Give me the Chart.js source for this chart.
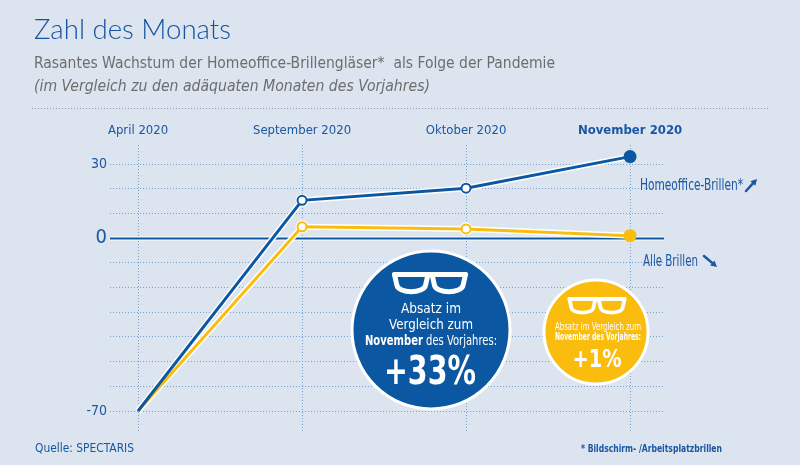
<!DOCTYPE html>
<html lang="de">
<head>
  <meta charset="UTF-8" />
  <title>Zahl des Monats</title>
  <script src="https://cdn.jsdelivr.net/npm/chart.js"></script>
  <style>
    html, body { margin: 0; padding: 0; background: #dce4ef; }
    #wrap { width: 800px; height: 465px; position: relative; }
  </style>
</head>
<body>
  <div id="wrap"><canvas id="chart" width="800" height="465"></canvas></div>

  <script>
    // Data
    const months = ['April 2020', 'September 2020', 'Oktober 2020', 'November 2020'];
    const homeoffice = [-70, 15.3, 20.2, 33];
    const alleBrillen = [-70, 4.6, 3.7, 1];
    const yTicks = [-70, -60, -50, -40, -30, -20, -10, 0, 10, 20, 30];
    const yLabelled = [30, 0, -70];
    const badgeBlue = '+33%';
    const badgeYellow = '+1%';

    const BLUE = '#0c57a2';
    const TEXT = '#1a57a3';
    const YELLOW = '#fbbd0d';
    const GRID = '#76a0d2';
    const COND = "'Liberation Sans Narrow', 'DejaVu Sans Condensed', 'Liberation Sans', sans-serif";

    // draws text squeezed to a given width, mimicking the condensed face of the original
    function txt(ctx, s, x, y, font, color, align, w) {
      ctx.font = font;
      ctx.fillStyle = color;
      ctx.textAlign = align || 'left';
      ctx.textBaseline = 'alphabetic';
      if (w) ctx.fillText(s, x, y, w); else ctx.fillText(s, x, y);
    }

    function glasses(ctx, cx, top, w, h, lw) {
      const x0 = cx - w / 2;
      const lensW = w * 0.44;
      const t = top + lw / 2;
      const ih = h - lw;
      ctx.strokeStyle = '#fff';
      ctx.lineWidth = lw;
      ctx.lineJoin = 'round';
      ctx.lineCap = 'round';
      ctx.beginPath();
      ctx.moveTo(x0 + lw / 2, t);
      ctx.lineTo(x0 + w - lw / 2, t);
      ctx.stroke();
      [x0 + lw / 2, x0 + w - lw / 2 - lensW].forEach(lx => {
        ctx.beginPath();
        ctx.moveTo(lx, t);
        ctx.lineTo(lx + lensW, t);
        ctx.lineTo(lx + lensW * 0.93, t + ih * 0.55);
        ctx.bezierCurveTo(lx + lensW * 0.88, t + ih * 1.02, lx + lensW * 0.12, t + ih * 1.02, lx + lensW * 0.07, t + ih * 0.55);
        ctx.closePath();
        ctx.stroke();
      });
    }

    function arrow(ctx, x1, y1, x2, y2) {
      const a = Math.atan2(y2 - y1, x2 - x1);
      ctx.strokeStyle = TEXT;
      ctx.fillStyle = TEXT;
      ctx.lineWidth = 2.5;
      ctx.beginPath();
      ctx.moveTo(x1, y1);
      ctx.lineTo(x2 - 4 * Math.cos(a), y2 - 4 * Math.sin(a));
      ctx.stroke();
      ctx.beginPath();
      ctx.moveTo(x2, y2);
      ctx.lineTo(x2 - 7 * Math.cos(a - 0.5), y2 - 7 * Math.sin(a - 0.5));
      ctx.lineTo(x2 - 7 * Math.cos(a + 0.5), y2 - 7 * Math.sin(a + 0.5));
      ctx.closePath();
      ctx.fill();
    }

    const decor = {
      id: 'decor',
      beforeDraw(chart) {
        const ctx = chart.ctx;
        ctx.save();
        ctx.fillStyle = '#dce4ef';
        ctx.fillRect(0, 0, chart.width, chart.height);

        txt(ctx, 'Zahl des Monats', 34, 39, "300 28px 'Lato', 'Open Sans', sans-serif", '#1652a0', 'left', 197);
        txt(ctx, 'Rasantes Wachstum der Homeoffice-Brillengläser*  als Folge der Pandemie', 34, 68, '16px ' + COND, '#6d6d6d', 'left', 521);
        txt(ctx, '(im Vergleich zu den adäquaten Monaten des Vorjahres)', 34, 91, 'italic 16px ' + COND, '#6d6d6d', 'left', 396);

        ctx.strokeStyle = '#8e9cb2';
        ctx.lineWidth = 1;
        ctx.setLineDash([1, 2]);
        ctx.beginPath();
        ctx.moveTo(32, 108.5);
        ctx.lineTo(768, 108.5);
        ctx.stroke();
        ctx.restore();
      },
      beforeDatasetsDraw(chart) {
        // solid zero line with white halo
        const ctx = chart.ctx;
        const y = Math.round(chart.scales.y.getPixelForValue(0)) + 0.5;
        ctx.save();
        ctx.lineWidth = 4;
        ctx.strokeStyle = '#fff';
        ctx.beginPath();
        ctx.moveTo(chart.chartArea.left, y);
        ctx.lineTo(chart.chartArea.right, y);
        ctx.stroke();
        ctx.lineWidth = 2;
        ctx.strokeStyle = BLUE;
        ctx.stroke();
        ctx.restore();
      },
      afterDraw(chart) {
        const ctx = chart.ctx;
        ctx.save();

        // blue badge
        ctx.beginPath();
        ctx.arc(431, 330, 79, 0, Math.PI * 2);
        ctx.fillStyle = BLUE;
        ctx.fill();
        ctx.lineWidth = 3;
        ctx.strokeStyle = '#fff';
        ctx.stroke();
        glasses(ctx, 430, 272, 76, 24, 5);
        txt(ctx, 'Absatz im', 431, 313, '14px ' + COND, '#fff', 'center', 60);
        txt(ctx, 'Vergleich zum', 431, 329, '14px ' + COND, '#fff', 'center', 84);
        ctx.font = 'bold 14px ' + COND;
        const nb = 'November';
        const rest = ' des Vorjahres:';
        const w1 = ctx.measureText(nb).width;
        ctx.font = '14px ' + COND;
        const w2 = ctx.measureText(rest).width;
        const k = Math.min(1, 132 / (w1 + w2));
        const sx = 431 - (w1 + w2) * k / 2;
        txt(ctx, nb, sx, 345, 'bold 14px ' + COND, '#fff', 'left', w1 * k);
        txt(ctx, rest, sx + w1 * k, 345, '14px ' + COND, '#fff', 'left', w2 * k);
        txt(ctx, badgeBlue, 430, 384, 'bold 39px ' + COND, '#fff', 'center', 92);

        // yellow badge
        ctx.beginPath();
        ctx.arc(596, 332, 52, 0, Math.PI * 2);
        ctx.fillStyle = YELLOW;
        ctx.fill();
        ctx.lineWidth = 3;
        ctx.strokeStyle = '#fff';
        ctx.stroke();
        glasses(ctx, 597, 297, 59, 19, 3.8);
        txt(ctx, 'Absatz im Vergleich zum', 598, 330, '10px ' + COND, '#fff', 'center', 86);
        txt(ctx, 'November des Vorjahres:', 598, 340, 'bold 10px ' + COND, '#fff', 'center', 86);
        txt(ctx, badgeYellow, 597, 367, 'bold 25px ' + COND, '#fff', 'center', 49);

        // series labels
        txt(ctx, 'Homeoffice-Brillen*', 640, 190, '15px ' + COND, TEXT, 'left', 103);
        arrow(ctx, 746, 191, 757, 179);
        txt(ctx, 'Alle Brillen', 643, 266, '15px ' + COND, TEXT, 'left', 55);
        arrow(ctx, 704, 256, 717, 267);

        // footer
        txt(ctx, 'Quelle: SPECTARIS', 35, 452, '13px ' + COND, TEXT, 'left', 99);
        txt(ctx, '* Bildschirm- /Arbeitsplatzbrillen', 581, 452, 'bold 10px ' + COND, TEXT, 'left', 141);
        ctx.restore();
      }
    };

    const pts = c => ({
      pointRadius: [0, 4.5, 4.5, 6.5],
      pointHoverRadius: [0, 4.5, 4.5, 6.5],
      pointBackgroundColor: ['#fff', '#fff', '#fff', c],
      pointBorderColor: c,
      pointBorderWidth: [0, 2, 2, 0]
    });

    new Chart(document.getElementById('chart'), {
      type: 'line',
      data: {
        labels: months,
        datasets: [
          Object.assign({ label: 'Homeoffice-Brillen*', data: homeoffice.map((y, i) => ({ x: i, y })),
            borderColor: BLUE, borderWidth: 3 }, pts(BLUE)),
          Object.assign({ label: 'Alle Brillen', data: alleBrillen.map((y, i) => ({ x: i, y })),
            borderColor: YELLOW, borderWidth: 3 }, pts(YELLOW)),
          { label: 'halo1', data: homeoffice.map((y, i) => ({ x: i, y })), borderColor: '#fff',
            borderWidth: 6, pointRadius: [0, 6.5, 6.5, 0], pointBackgroundColor: '#fff', pointBorderWidth: 0 },
          { label: 'halo2', data: alleBrillen.map((y, i) => ({ x: i, y })), borderColor: '#fff',
            borderWidth: 6, pointRadius: [0, 6.5, 6.5, 0], pointBackgroundColor: '#fff', pointBorderWidth: 0 }
        ]
      },
      options: {
        responsive: false,
        animation: false,
        devicePixelRatio: 1,
        layout: { padding: { left: 60, right: 136, top: 115, bottom: 33 } },
        plugins: { legend: { display: false }, tooltip: { enabled: false } },
        scales: {
          x: {
            type: 'linear',
            position: 'top',
            min: -0.171,
            max: 3.207,
            afterBuildTicks: s => { s.ticks = months.map((m, i) => ({ value: i })); },
            afterFit: s => { s.height = 30; },
            ticks: {
              padding: 7,
              maxRotation: 0,
              autoSkip: false,
              color: TEXT,
              callback: v => months[v],
              font: c => ({ family: COND, size: 13, weight: c.index === 3 ? 'bold' : 'normal' })
            },
            grid: { color: GRID, lineWidth: 1, drawTicks: false },
            border: { display: false, dash: [1, 2] }
          },
          y: {
            min: -78.5,
            max: 37.7,
            afterBuildTicks: s => { s.ticks = yTicks.map(v => ({ value: v })); },
            afterFit: s => { s.width = 50; },
            ticks: {
              padding: 3,
              color: TEXT,
              callback: v => yLabelled.includes(v) ? String(v) : '',
              font: c => ({ family: COND, size: c.tick && c.tick.value === 0 ? 20 : 14 })
            },
            grid: {
              color: c => c.tick && c.tick.value === 0 ? 'rgba(0,0,0,0)' : GRID,
              lineWidth: 1,
              drawTicks: false
            },
            border: { display: false, dash: [1, 2] }
          }
        }
      },
      plugins: [decor]
    });
  </script>
</body>
</html>
